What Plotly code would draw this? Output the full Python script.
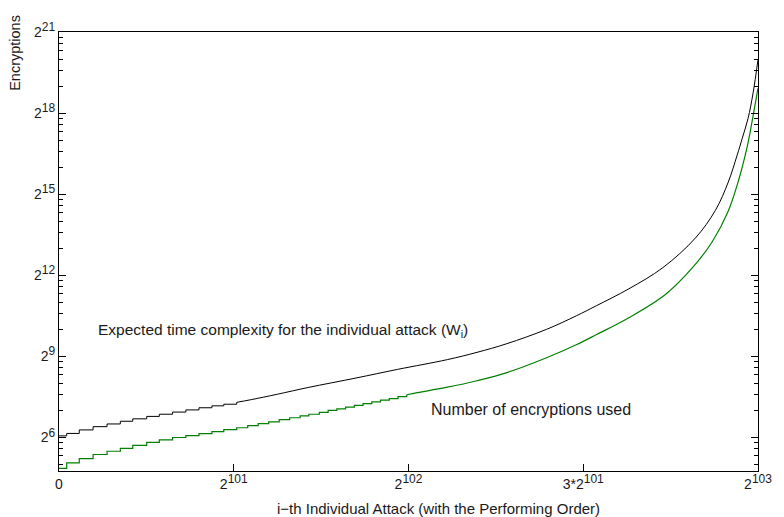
import math
import plotly.graph_objects as go

X_UNIT = float(2 ** 101)  # x values below are in units of 2^101

# Expected time complexity W_i : staircase part (x, log2 value)
w_step_x = [0, 0.044, 0.116, 0.195, 0.275, 0.351, 0.422, 0.502, 0.574,
            0.650, 0.726, 0.801, 0.875, 0.943, 1.017]
w_step_log2 = [6.06, 6.15, 6.28, 6.40, 6.50, 6.60, 6.69, 6.78, 6.86,
               6.94, 7.02, 7.10, 7.17, 7.23, 7.30]
# W_i : smooth part
w_x = [1.017, 1.10, 1.25, 1.426, 1.70, 1.938, 2.222, 2.392, 2.563, 2.79,
       2.96, 3.074, 3.261, 3.455, 3.642, 3.756, 3.830, 3.881, 3.909, 3.943,
       3.972, 4.0]
w_log2 = [7.30, 7.40, 7.60, 7.85, 8.20, 8.52, 8.88, 9.15, 9.47, 10.00,
          10.50, 10.87, 11.50, 12.28, 13.38, 14.40, 15.45, 16.45, 17.05, 17.80,
          18.75, 19.97]

# Number of encryptions used : staircase part
n_step_x = [0, 0.044, 0.116, 0.195, 0.275, 0.351, 0.422, 0.502, 0.574,
            0.650, 0.726, 0.801, 0.875, 0.943, 1.017, 1.08, 1.14, 1.20,
            1.26, 1.32, 1.38, 1.43, 1.49, 1.54, 1.59, 1.64, 1.69, 1.74,
            1.79, 1.84, 1.89, 1.94, 1.99]
n_step_log2 = [4.86, 5.06, 5.22, 5.37, 5.49, 5.60, 5.71, 5.82, 5.91,
               6.00, 6.07, 6.14, 6.22, 6.29, 6.36, 6.44, 6.51, 6.58,
               6.66, 6.73, 6.80, 6.86, 6.93, 7.00, 7.06, 7.12, 7.19, 7.25,
               7.32, 7.38, 7.44, 7.51, 7.58]
# Number of encryptions used : smooth part
n_x = [1.99, 2.051, 2.222, 2.392, 2.563, 2.79, 2.96, 3.074, 3.261, 3.472,
       3.625, 3.739, 3.830, 3.886, 3.938, 3.955, 3.994, 4.0]
n_log2 = [7.58, 7.66, 7.86, 8.10, 8.40, 8.95, 9.43, 9.80, 10.43, 11.30,
          12.28, 13.25, 14.38, 15.45, 16.75, 17.30, 18.70, 18.92]

y_tick_exp = [6, 9, 12, 15, 18, 21]
x_tick_units = [0, 1, 2, 3, 4]
x_tick_base = ["0", "2", "2", "3*2", "2"]
x_tick_sup = ["", "101", "102", "101", "103"]

Y_MIN_EXP, Y_MAX_EXP = 4.76, 21.0

BLACK = "#000000"
GREEN = "#008000"
TXT = "#1a1a1a"
SUP = "<sup><span style='font-size:12px'>%s</span></sup>"


def xs(v):
    return [float(a) * X_UNIT for a in v]


def ys(v):
    return [2.0 ** a for a in v]


def sup_label(base, sup):
    return base + (SUP % sup if sup else "")


fig = go.Figure()
fig.add_trace(go.Scatter(x=xs(w_step_x), y=ys(w_step_log2), mode="lines",
                         line=dict(color=BLACK, width=1, shape="hv"), showlegend=False))
fig.add_trace(go.Scatter(x=xs(w_x), y=ys(w_log2), mode="lines",
                         line=dict(color=BLACK, width=1, shape="spline", smoothing=1.0),
                         showlegend=False))
fig.add_trace(go.Scatter(x=xs(n_step_x), y=ys(n_step_log2), mode="lines",
                         line=dict(color=GREEN, width=1.2, shape="hv"), showlegend=False))
fig.add_trace(go.Scatter(x=xs(n_x), y=ys(n_log2), mode="lines",
                         line=dict(color=GREEN, width=1.2, shape="spline", smoothing=1.0),
                         showlegend=False))

minor_vals = []
for m in range(1, 8):
    for k in range(2, 8):
        v = float(k * 8 ** m)
        if 2 ** Y_MIN_EXP <= v <= 2 ** Y_MAX_EXP:
            minor_vals.append(v)

FONT = "Liberation Sans, Arial, Helvetica, sans-serif"
L2 = math.log10(2)

# page has an 8px body margin: plot area ends up at x 59..763, y 22..471
PL, PT, PW, PH = 59, 22, 704, 449


def px_x(p):
    return (p - PL) / PW


def px_y(p):
    return 1 - (p - PT) / PH


fig.update_layout(
    width=776, height=509,
    margin=dict(l=51, r=21, t=14, b=46),
    paper_bgcolor="white", plot_bgcolor="white",
    font=dict(family=FONT, size=14, color=TXT),
    xaxis=dict(
        range=[0.0, 4 * X_UNIT],
        tickmode="array", tickvals=xs(x_tick_units),
        ticktext=[sup_label(b, s) for b, s in zip(x_tick_base, x_tick_sup)],
        ticks="inside", ticklen=7, tickwidth=1, tickcolor="black",
        showline=True, linecolor="black", linewidth=1, mirror=True,
        showgrid=False, zeroline=False,
        tickfont=dict(size=14, color=TXT),
    ),
    yaxis=dict(
        type="log",
        range=[Y_MIN_EXP * L2, Y_MAX_EXP * L2],
        tickmode="array", tickvals=[2.0 ** e for e in y_tick_exp],
        ticktext=[sup_label("2", str(e)) for e in y_tick_exp],
        ticks="inside", ticklen=7, tickwidth=1, tickcolor="black",
        showline=True, linecolor="black", linewidth=1, mirror="allticks",
        showgrid=False, zeroline=False,
        tickfont=dict(size=14, color=TXT),
        minor=dict(tickmode="array", tickvals=minor_vals, ticks="inside",
                   ticklen=4, tickwidth=1, tickcolor="black", showgrid=False),
    ),
    annotations=[
        dict(text="Encryptions", textangle=-90, xref="paper", yref="paper",
             x=px_x(14), y=px_y(43), xanchor="center", yanchor="middle",
             showarrow=False, font=dict(size=14.5, color=TXT)),
        dict(text="i\u2212th Individual Attack (with the Performing Order)",
             xref="paper", yref="paper", x=px_x(441), y=px_y(509),
             xanchor="center", yanchor="middle", showarrow=False,
             font=dict(size=15, color=TXT)),
        dict(text="Expected time complexity for the individual attack (W<sub>i</sub>)",
             xref="x", yref="y", x=0.21 * X_UNIT, y=9.97 * L2,
             xanchor="left", yanchor="middle", showarrow=False,
             font=dict(size=15.5, color=TXT)),
        dict(text="Number of encryptions used",
             xref="x", yref="y", x=2.118 * X_UNIT, y=7.04 * L2,
             xanchor="left", yanchor="middle", showarrow=False,
             font=dict(size=16, color=TXT)),
    ],
)

fig.write_html("out.html")
